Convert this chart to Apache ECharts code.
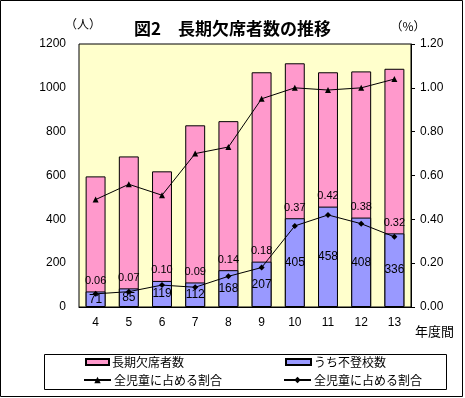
<!DOCTYPE html>
<html>
<head>
<meta charset="utf-8">
<script src="https://cdn.jsdelivr.net/npm/echarts@6/dist/echarts.min.js"></script>
<style>
  html, body { margin: 0; padding: 0; background: #fff; }
  #main { width: 465px; height: 398px; }
</style>
</head>
<body>
<div id="main"></div>
<script>
// 年度
var years = ["4", "5", "6", "7", "8", "9", "10", "11", "12", "13"];
// 長期欠席者数（人）
var longAbsent = [596, 687, 619, 829, 848, 1071, 1112, 1071, 1075, 1087];
// うち不登校数（人）
var futoko = [71, 85, 119, 112, 168, 207, 405, 458, 408, 336];
// 全児童に占める割合（長期欠席, %）
var longAbsentRate = [0.49, 0.56, 0.51, 0.70, 0.73, 0.95, 1.00, 0.99, 1.00, 1.04];
// 全児童に占める割合（不登校, %）
var futokoRate = [0.06, 0.07, 0.10, 0.09, 0.14, 0.18, 0.37, 0.42, 0.38, 0.32];

var jp = "'Noto Sans CJK JP', sans-serif";
var num = "'Liberation Sans', 'Noto Sans CJK JP', sans-serif";

var legendNames = {
  longAbsent: "長期欠席者数",
  futoko: "うち不登校数",
  longAbsentRate: "全児童に占める割合",
  futokoRate: "全児童に占める割合"
};

function legendAt(name, left, top, w, h, icon) {
  var lg = {
    data: [name],
    left: left,
    top: top,
    itemWidth: w,
    itemHeight: h,
    itemGap: 0,
    padding: 0,
    selectedMode: false,
    formatter: function (n) { return legendNames[n]; },
    textStyle: { fontFamily: jp, fontSize: 12, color: "#000", padding: [0, 0, 0, -2] }
  };
  if (icon) lg.icon = icon;
  return lg;
}

var myChart = echarts.init(document.getElementById("main"));
var option = {
  animation: false,
  title: {
    text: "図2　長期欠席者数の推移",
    left: "center",
    top: 15,
    textStyle: { fontFamily: jp, fontSize: 17, fontWeight: "bold", color: "#000" }
  },
  graphic: [
    {
      type: "rect",
      shape: { x: 0.5, y: 0.5, width: 462, height: 396 },
      style: { fill: null, stroke: "#000", lineWidth: 1 },
      silent: true
    },
    {
      type: "rect",
      shape: { x: 44.5, y: 354.5, width: 402, height: 35 },
      style: { fill: null, stroke: "#000", lineWidth: 1 },
      silent: true
    },
    {
      type: "text",
      left: 415,
      top: 325,
      style: { text: "年度間", font: "13px " + jp, fill: "#000" }
    }
  ],
  legend: [
    legendAt("longAbsent", 85, 356, 23, 6, "rect"),
    legendAt("futoko", 285, 356, 25, 6, "rect"),
    legendAt("longAbsentRate", 83, 374, 27, 8),
    legendAt("futokoRate", 283, 374, 27, 8)
  ],
  grid: {
    left: 79,
    right: 54,
    top: 44,
    bottom: 91,
    show: true,
    backgroundColor: "#FFFFCC",
    borderColor: "#000",
    borderWidth: 1
  },
  xAxis: {
    type: "category",
    data: years,
    axisTick: { show: false },
    axisLine: { lineStyle: { color: "#000" } },
    axisLabel: { fontFamily: num, fontSize: 12, color: "#000", margin: 10 }
  },
  yAxis: [
    {
      type: "value",
      min: 0,
      max: 1200,
      interval: 200,
      name: "（人）",
      nameGap: 14,
      nameTextStyle: { fontFamily: jp, fontSize: 12, color: "#000", padding: [0, 0, 0, 8] },
      axisLine: { show: false },
      axisTick: { show: false },
      splitLine: { show: false },
      axisLabel: {
        fontFamily: num, fontSize: 12, color: "#000", margin: 13,
        formatter: function (v) { return String(v); }
      }
    },
    {
      type: "value",
      min: 0,
      max: 1.2,
      interval: 0.2,
      name: "（%）",
      nameGap: 12,
      nameTextStyle: { fontFamily: jp, fontSize: 12, color: "#000", padding: [0, 6, 0, 0] },
      axisLine: { show: true, lineStyle: { color: "#000" } },
      axisTick: { show: true, length: 4, lineStyle: { color: "#000" } },
      splitLine: { show: false },
      axisLabel: {
        fontFamily: num, fontSize: 12, color: "#000", margin: 9,
        formatter: function (v) { return v.toFixed(2); }
      }
    }
  ],
  series: [
    {
      name: "longAbsent",
      type: "bar",
      data: longAbsent,
      barWidth: "60%",
      itemStyle: { color: "#FF99CC", borderColor: "#000", borderWidth: 1 }
    },
    {
      name: "futoko",
      type: "bar",
      data: futoko,
      barWidth: "60%",
      barGap: "-100%",
      itemStyle: { color: "#9999FF", borderColor: "#000", borderWidth: 1 },
      label: {
        show: true,
        position: "inside",
        fontFamily: num,
        fontSize: 12,
        color: "#000"
      }
    },
    {
      // 不登校割合のラベル（棒の上）
      name: "futokoLabel",
      type: "bar",
      data: futoko,
      barWidth: "60%",
      barGap: "-100%",
      silent: true,
      itemStyle: { color: "rgba(0,0,0,0)" },
      label: {
        show: true,
        position: "top",
        distance: 5,
        fontFamily: num,
        fontSize: 11,
        color: "#000",
        formatter: function (p) { return futokoRate[p.dataIndex].toFixed(2); }
      }
    },
    {
      name: "longAbsentRate",
      type: "line",
      yAxisIndex: 1,
      data: longAbsentRate,
      symbol: "triangle",
      symbolSize: 6,
      lineStyle: { color: "#000", width: 1 },
      itemStyle: { color: "#000" },
      z: 5
    },
    {
      name: "futokoRate",
      type: "line",
      yAxisIndex: 1,
      data: futokoRate,
      symbol: "diamond",
      symbolSize: 6,
      lineStyle: { color: "#000", width: 1 },
      itemStyle: { color: "#000" },
      z: 5
    }
  ]
};
myChart.setOption(option);
</script>
</body>
</html>
